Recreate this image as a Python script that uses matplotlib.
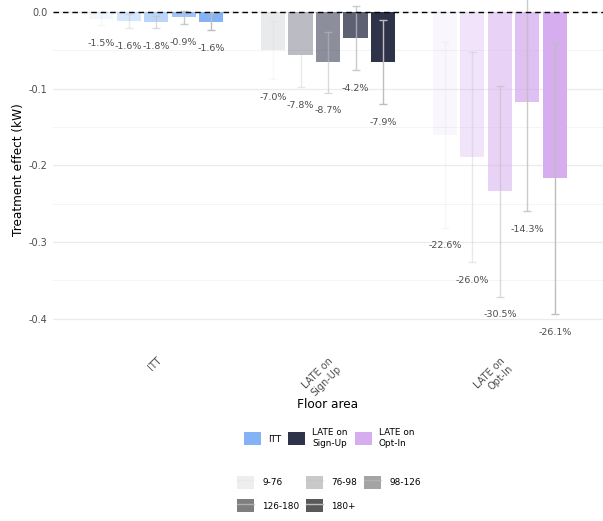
import matplotlib
matplotlib.use("Agg")
import matplotlib.pyplot as plt
import numpy as np
from matplotlib.patches import Patch
from matplotlib.lines import Line2D
from matplotlib.legend_handler import HandlerTuple

# Estimand groups and floor-area classes
groups = ["ITT", "LATE on\nSign-Up", "LATE on\nOpt-In"]
floor_areas = ["9-76", "76-98", "98-126", "126-180", "180+"]
group_colors = ["#83B3F5", "#2E3349", "#D6AEF0"]

# Point estimates (kW) per group, one value per floor-area class
itt_mean = [-0.0090, -0.0115, -0.0132, -0.0072, -0.0126]
itt_lo = [-0.0175, -0.0205, -0.0212, -0.0160, -0.0235]
itt_hi = [-0.0005, -0.0025, -0.0052, 0.0016, -0.0017]
itt_pct = [-1.5, -1.6, -1.8, -0.9, -1.6]

signup_mean = [-0.0495, -0.0560, -0.0657, -0.0340, -0.0654]
signup_lo = [-0.0877, -0.0974, -0.1050, -0.0760, -0.1200]
signup_hi = [-0.0113, -0.0146, -0.0264, 0.0080, -0.0108]
signup_pct = [-7.0, -7.8, -8.7, -4.2, -7.9]

optin_mean = [-0.1600, -0.1890, -0.2337, -0.1173, -0.2170]
optin_lo = [-0.2810, -0.3260, -0.3710, -0.2600, -0.3940]
optin_hi = [-0.0390, -0.0520, -0.0964, 0.0254, -0.0400]
optin_pct = [-22.6, -26.0, -30.5, -14.3, -26.1]

means = [itt_mean, signup_mean, optin_mean]
los = [itt_lo, signup_lo, optin_lo]
his = [itt_hi, signup_hi, optin_hi]
pcts = [itt_pct, signup_pct, optin_pct]

alphas = np.linspace(0.1, 1.0, len(floor_areas))
err_color = "#bdbdbd"
text_grey = "#4d4d4d"

fig = plt.figure(figsize=(6.03, 5.21), dpi=100)
ax = fig.add_axes([53 / 603, 1 - 340.3 / 521, 550 / 603, 340.3 / 521])

dodge = 0.16
bar_w = 0.14
label_gap = 0.024

for g in range(len(groups)):
    for i in range(len(floor_areas)):
        x = (g + 1) + (i - 2) * dodge
        m, lo, hi = means[g][i], los[g][i], his[g][i]
        ax.bar(x, m, width=bar_w, color=group_colors[g], alpha=alphas[i],
               linewidth=0, zorder=2)
        ax.errorbar(x, m, yerr=[[m - lo], [hi - m]], fmt="none",
                    ecolor=err_color, alpha=alphas[i], elinewidth=1.0,
                    capsize=2.6, capthick=1.0, zorder=3)
        ax.text(x, lo - label_gap, f"{pcts[g][i]:.1f}%", ha="center",
                va="center", fontsize=6.8, color=text_grey, zorder=4)

ax.axhline(0, color="black", lw=1.0, ls=(0, (4.0, 2.8)), zorder=5)

ax.set_xlim(0.4, 3.6)
ax.set_ylim(-0.428, 0.0156)
ax.set_yticks([0.0, -0.1, -0.2, -0.3, -0.4])
ax.set_yticklabels(["0.0", "-0.1", "-0.2", "-0.3", "-0.4"])
ax.set_yticks([-0.05, -0.15, -0.25, -0.35], minor=True)
ax.set_xticks([1, 2, 3])
ax.set_xticklabels(groups, rotation=45, ha="right", va="top",
                   rotation_mode="anchor")
ax.tick_params(axis="both", length=0, labelsize=7, colors=text_grey)
ax.tick_params(axis="y", which="minor", length=0)
ax.tick_params(axis="x", pad=11)
ax.tick_params(axis="y", pad=4)
ax.grid(axis="y", which="major", color="#ebebeb", lw=0.9)
ax.grid(axis="y", which="minor", color="#f2f2f2", lw=0.6)
ax.set_axisbelow(True)
for s in ax.spines.values():
    s.set_visible(False)

fig.text(19 / 603, 1 - 170 / 521, "Treatment effect (kW)", rotation=90,
         ha="center", va="center", fontsize=8.7)
fig.text(328 / 603, 1 - 404 / 521, "Floor area", ha="center", va="center",
         fontsize=8.7)

# Legend for estimand fill colours
fill_handles = [Patch(facecolor=c, edgecolor="none") for c in group_colors]
leg1 = fig.legend(fill_handles, groups, loc="center", ncol=3,
                  bbox_to_anchor=(329 / 603, 1 - 438 / 521), frameon=False,
                  fontsize=6.4, handlelength=1.9, handleheight=1.9,
                  handletextpad=0.8, columnspacing=0.8)

# Legend for floor-area transparency, laid out row by row
alpha_handles = []
for a in alphas:
    alpha_handles.append((Patch(facecolor="#595959", edgecolor="none", alpha=a),
                          Line2D([], [], color=err_color, alpha=a, lw=1.0)))
order = [0, 3, 1, 4, 2]
leg2 = fig.legend([alpha_handles[k] for k in order],
                  [floor_areas[k] for k in order], loc="center", ncol=3,
                  bbox_to_anchor=(329 / 603, 1 - 494 / 521), frameon=False,
                  fontsize=6.4, handlelength=1.9, handleheight=1.9,
                  handletextpad=0.9, columnspacing=0.8, labelspacing=1.2,
                  handler_map={tuple: HandlerTuple(ndivide=1, pad=0)})

fig.savefig("out.png", dpi=100)
